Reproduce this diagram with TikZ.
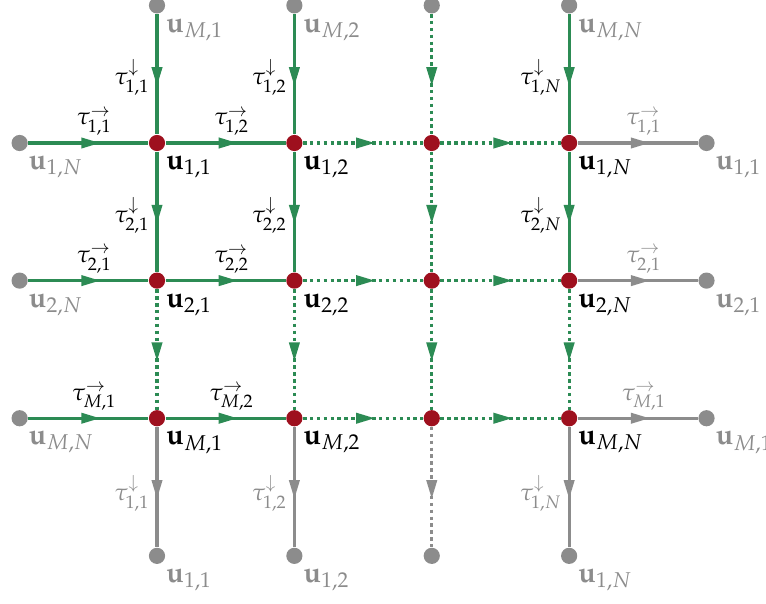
\documentclass[tikz,border=0pt]{standalone}
\usepackage{mathpazo}
\usepackage{tikz}
\usetikzlibrary{arrows.meta,positioning,decorations.markings}
\definecolor{flowgreen}{RGB}{44,139,84}
\definecolor{nodered}{RGB}{158,16,30}
\definecolor{bordergray}{RGB}{140,140,140}

\begin{document}
\begin{tikzpicture}[
  x=0.42pt, y=-0.42pt,
  node distance=57.8pt and 57.7pt, on grid,
  gdot/.style={circle, fill=nodered, inner sep=0pt, minimum size=6.8pt},
  bdot/.style={circle, fill=bordergray, inner sep=0pt, minimum size=6.8pt},
  ulab/.style={inner sep=1pt, font=\large, label distance=0pt, yshift=-1.8pt},
  glab/.style={ulab, text=bordergray},
  tlab/.style={inner sep=2.5pt},
  fwd/.style={decoration={markings, mark=at position 0.6 with {\arrow{Triangle[length=8pt,width=4.3pt]}}}, postaction={decorate}},
  gline/.style={fwd, draw=flowgreen, line width=1.3pt},
  gdots/.style={gline, dash pattern=on 1.5pt off 1.4pt},
  bline/.style={fwd, draw=bordergray, line width=1.3pt},
  bdots/.style={bline, dash pattern=on 1.5pt off 1.4pt},
]
\useasboundingbox (0,0) rectangle (766,604);

% Grid nodes
\node[gdot, label={[ulab]below right:$\mathbf{u}_{1,1}$}] (u11) at (157,143) {};
\node[gdot, right=of u11, label={[ulab]below right:$\mathbf{u}_{1,2}$}] (u12) {};
\node[gdot, right=of u12] (u13) {};
\node[gdot, right=of u13, label={[ulab]below right:$\mathbf{u}_{1,N}$}] (u1N) {};
\node[gdot, below=of u11, label={[ulab]below right:$\mathbf{u}_{2,1}$}] (u21) {};
\node[gdot, below=of u12, label={[ulab]below right:$\mathbf{u}_{2,2}$}] (u22) {};
\node[gdot, below=of u13] (u23) {};
\node[gdot, below=of u1N, label={[ulab]below right:$\mathbf{u}_{2,N}$}] (u2N) {};
\node[gdot, below=of u21, label={[ulab]below right:$\mathbf{u}_{M,1}$}] (uM1) {};
\node[gdot, below=of u22, label={[ulab]below right:$\mathbf{u}_{M,2}$}] (uM2) {};
\node[gdot, below=of u23] (uM3) {};
\node[gdot, below=of u2N, label={[ulab]below right:$\mathbf{u}_{M,N}$}] (uMN) {};

% Boundary nodes (top / bottom)
\node[bdot, above=of u11, label={[glab]below right:$\mathbf{u}_{M,1}$}] (t1) {};
\node[bdot, above=of u12, label={[glab]below right:$\mathbf{u}_{M,2}$}] (t2) {};
\node[bdot, above=of u13] (t3) {};
\node[bdot, above=of u1N, label={[glab]below right:$\mathbf{u}_{M,N}$}] (tN) {};
\node[bdot, below=of uM1, label={[glab]below right:$\mathbf{u}_{1,1}$}] (b1) {};
\node[bdot, below=of uM2, label={[glab]below right:$\mathbf{u}_{1,2}$}] (b2) {};
\node[bdot, below=of uM3] (b3) {};
\node[bdot, below=of uMN, label={[glab]below right:$\mathbf{u}_{1,N}$}] (bN) {};

% Boundary nodes (left / right)
\node[bdot, left=of u11, label={[glab]below right:$\mathbf{u}_{1,N}$}] (l1) {};
\node[bdot, left=of u21, label={[glab]below right:$\mathbf{u}_{2,N}$}] (l2) {};
\node[bdot, left=of uM1, label={[glab]below right:$\mathbf{u}_{M,N}$}] (lM) {};
\node[bdot, right=of u1N, label={[glab]below right:$\mathbf{u}_{1,1}$}] (r1) {};
\node[bdot, right=of u2N, label={[glab]below right:$\mathbf{u}_{2,1}$}] (r2) {};
\node[bdot, right=of uMN, label={[glab]below right:$\mathbf{u}_{M,1}$}] (rM) {};

% Vertical edges
\draw[gline] (t1) -- node[tlab, left, pos=0.53] {$\tau^{\downarrow}_{1,1}$} (u11);
\draw[gline] (t2) -- node[tlab, left, pos=0.53] {$\tau^{\downarrow}_{1,2}$} (u12);
\draw[gdots] (t3) -- (u13);
\draw[gline] (tN) -- node[tlab, left, pos=0.53] {$\tau^{\downarrow}_{1,N}$} (u1N);
\draw[gline] (u11) -- node[tlab, left, pos=0.53] {$\tau^{\downarrow}_{2,1}$} (u21);
\draw[gline] (u12) -- node[tlab, left, pos=0.53] {$\tau^{\downarrow}_{2,2}$} (u22);
\draw[gdots] (u13) -- (u23);
\draw[gline] (u1N) -- node[tlab, left, pos=0.53] {$\tau^{\downarrow}_{2,N}$} (u2N);
\draw[gdots] (u21) -- (uM1);
\draw[gdots] (u22) -- (uM2);
\draw[gdots] (u23) -- (uM3);
\draw[gdots] (u2N) -- (uMN);
\draw[bline] (uM1) -- node[tlab, left, pos=0.55, text=bordergray] {$\tau^{\downarrow}_{1,1}$} (b1);
\draw[bline] (uM2) -- node[tlab, left, pos=0.55, text=bordergray] {$\tau^{\downarrow}_{1,2}$} (b2);
\draw[bdots] (uM3) -- (b3);
\draw[bline] (uMN) -- node[tlab, left, pos=0.55, text=bordergray] {$\tau^{\downarrow}_{1,N}$} (bN);

% Horizontal edges
\draw[gline] (l1) -- node[tlab, above, pos=0.55] {$\tau^{\rightarrow}_{1,1}$} (u11);
\draw[gline] (l2) -- node[tlab, above, pos=0.55] {$\tau^{\rightarrow}_{2,1}$} (u21);
\draw[gline] (lM) -- node[tlab, above, pos=0.55] {$\tau^{\rightarrow}_{M,1}$} (uM1);
\draw[gline] (u11) -- node[tlab, above, pos=0.55] {$\tau^{\rightarrow}_{1,2}$} (u12);
\draw[gline] (u21) -- node[tlab, above, pos=0.55] {$\tau^{\rightarrow}_{2,2}$} (u22);
\draw[gline] (uM1) -- node[tlab, above, pos=0.55] {$\tau^{\rightarrow}_{M,2}$} (uM2);
\draw[gdots] (u12) -- (u13);
\draw[gdots] (u22) -- (u23);
\draw[gdots] (uM2) -- (uM3);
\draw[gdots] (u13) -- (u1N);
\draw[gdots] (u23) -- (u2N);
\draw[gdots] (uM3) -- (uMN);
\draw[bline] (u1N) -- node[tlab, above, pos=0.55, text=bordergray] {$\tau^{\rightarrow}_{1,1}$} (r1);
\draw[bline] (u2N) -- node[tlab, above, pos=0.55, text=bordergray] {$\tau^{\rightarrow}_{2,1}$} (r2);
\draw[bline] (uMN) -- node[tlab, above, pos=0.55, text=bordergray] {$\tau^{\rightarrow}_{M,1}$} (rM);

\end{tikzpicture}
\end{document}
